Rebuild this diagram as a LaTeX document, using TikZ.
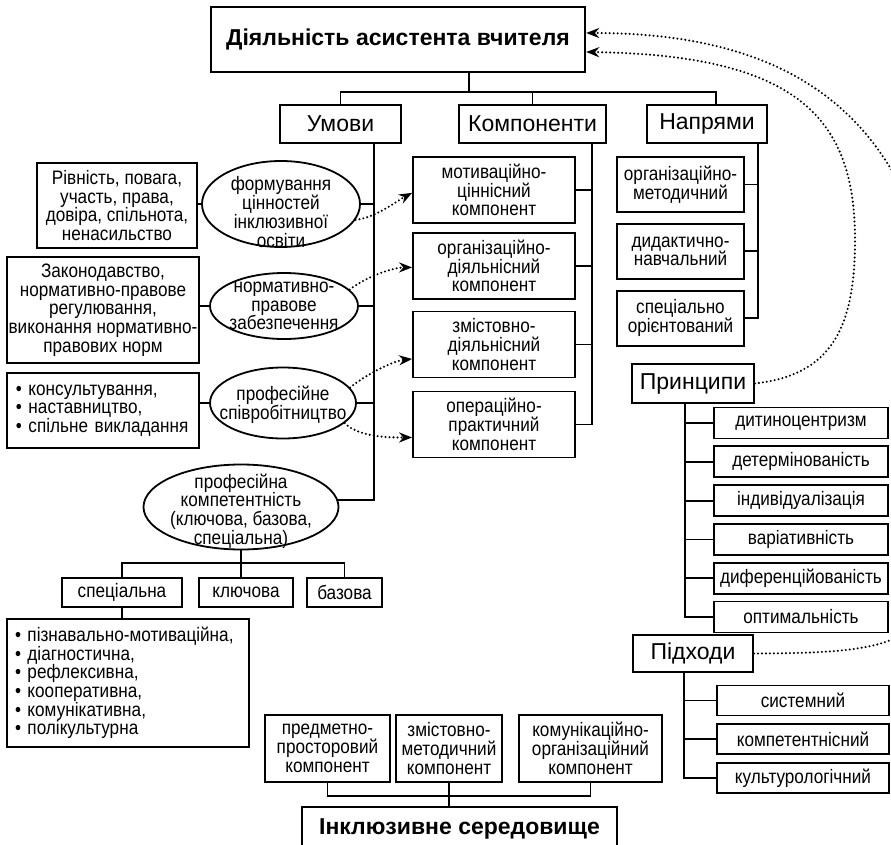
\documentclass[tikz,border=0pt]{standalone}
\usepackage{fontspec}
\setmainfont{Liberation Sans}
\newfontfamily\narrowfont{Liberation Sans}[FakeStretch=0.88]
\usetikzlibrary{shapes.geometric, arrows.meta, positioning, calc}
\newcommand\txtfont{\narrowfont\fontsize{19.5}{18.7}\selectfont}
\newcommand\hdfont{\fontsize{23}{26}\selectfont}
\newcommand\ttlfont{\bfseries\fontsize{23}{26}\selectfont}
\tikzset{
    box/.style={rectangle, draw, line width=1.8pt, align=center, inner sep=1pt, font=\txtfont},
    head/.style={box, font=\hdfont, minimum height=38pt},
    maintitle/.style={box, line width=2.4pt, font=\ttlfont},
    oval/.style={ellipse, draw, line width=1.8pt, inner sep=0pt},
    ovaltext/.style={align=center, font=\txtfont},
    link/.style={line width=1.8pt},
    dotarrow/.style={line width=2.3pt, dash pattern=on 0pt off 4pt, line cap=round, -{Stealth[length=13pt, width=10pt]}},
    comp/.style={box, minimum width=162pt, minimum height=66pt},
    dirbox/.style={box, minimum width=127pt, minimum height=55pt},
    prbox/.style={box, minimum width=174pt, minimum height=31pt},
    apbox/.style={box, minimum width=172pt, minimum height=30pt}
}
\begin{document}
\begin{tikzpicture}[x=1pt, y=-1pt]
    \useasboundingbox (0,0) rectangle (891,845);
    \clip (0,0) rectangle (891,845);

    \node[maintitle, minimum width=374pt, minimum height=65pt] (title) at (398,39.5) {Діяльність асистента вчителя};
    \node[head, minimum width=121pt] (umovy) at (340.5,124) {Умови};
    \node[head, minimum width=147pt] (kompon) at (532.5,124) {Компоненти};
    \node[head, minimum width=120pt] (napr) at (707,124) {Напрями};
    \coordinate (bus) at (469,92);
    \draw[link] (title.south -| bus) -- (bus);
    \draw[link] (umovy.north) |- (bus) -| ($(napr.north)+(9,0)$);
    \draw[link] (kompon.north |- bus) -- (kompon.north);

    \node[oval, minimum width=158pt, minimum height=86pt] (form) at (281,204) {};
    \node[ovaltext] (formtxt) at ($(form)+(0,8)$) {формування\\цінностей\\інклюзивної\\освіти};
    \node[oval, minimum width=148pt, minimum height=66pt] (norm) at (284,306) {};
    \node[ovaltext] (normtxt) at (norm) {нормативно-\\правове\\забезпечення};
    \node[oval, minimum width=146pt, minimum height=71pt] (prof) at (283,403) {};
    \node[ovaltext] (proftxt) at ($(prof)+(0,2)$) {професійне\\співробітництво};
    \node[oval, minimum width=195pt, minimum height=85pt] (pcomp) at (241,507) {};
    \node[ovaltext] (pcomptxt) at ($(pcomp)+(0,4)$) {професійна\\компетентність\\(ключова, базова,\\спеціальна)};

    \node[box, minimum width=160pt, minimum height=85pt] (rivn) at (117,205.5) {Рівність, повага,\\участь, права,\\довіра, спільнота,\\ненасильство};
    \node[box, minimum width=192pt, minimum height=106pt] (zakon) at (103,310) {Законодавство,\\нормативно-правове\\регулювання,\\виконання нормативно-\\правових норм};
    \node[box, minimum width=192pt, minimum height=75pt, text width=174pt, align=left] (konsult) at (103,410.5) {• консультування,\\• наставництво,\\• спільне викладання};
    \draw[link] (form.west) -- (form.west -| rivn.east);
    \draw[link] (norm.west) -- (norm.west -| zakon.east);
    \draw[link] (prof.west) -- (prof.west -| konsult.east);

    \coordinate (uspine) at (374,143);
    \draw[link] (umovy.south -| uspine) -- (uspine |- pcomp.4) -- (pcomp.4);
    \foreach \e in {form, norm, prof}
        \draw[link] (\e.east) -- (\e.east -| uspine);

    \node[comp] (motiv) at (494,190) {мотиваційно-\\ціннісний\\компонент};
    \node[comp] (orgd) at (494,266) {організаційно-\\діяльнісний\\компонент};
    \node[comp] (zmist) at (494,344.5) {змістовно-\\діяльнісний\\компонент};
    \node[comp] (oper) at (494,424.5) {операційно-\\практичний\\компонент};
    \coordinate (kspine) at (592,143);
    \draw[link] (kompon.south -| kspine) -- (kspine |- oper.east) -- (oper.east);
    \foreach \c in {motiv, orgd, zmist}
        \draw[link] (\c.east) -- (\c.east -| kspine);

    \draw[dotarrow] (form.-12) .. controls +(20,-2) and +(-15,8) .. (motiv.182);
    \draw[dotarrow] (norm.14) .. controls +(15,-12) and +(-20,0) .. (orgd.181);
    \draw[dotarrow] (prof.13) .. controls +(15,-12) and +(-20,2) .. (zmist.190);
    \draw[dotarrow] (prof.-18) .. controls +(15,15) and +(-20,0) .. (oper.189);

    \node[dirbox] (orgm) at (680.5,184.5) {організаційно-\\методичний};
    \node[dirbox] (dydakt) [below=10pt of orgm] {дидактично-\\навчальний};
    \node[dirbox] (specor) [below=10pt of dydakt] {спеціально\\орієнтований};
    \coordinate (nspine) at (758,143);
    \draw[link] (napr.south -| nspine) -- (nspine |- specor.east) -- (specor.east);
    \foreach \c in {orgm, dydakt}
        \draw[link] (\c.east) -- (\c.east -| nspine);

    \node[head, minimum width=122pt, minimum height=39pt] (pryn) at (693,383.5) {Принципи};
    \node[prbox] (p1) at (801,423) {дитиноцентризм};
    \node[prbox] (p2) [below=6pt of p1] {детермінованість};
    \node[prbox] (p3) [below=6pt of p2] {індивідуалізація};
    \node[prbox] (p4) [below=6pt of p3] {варіативність};
    \node[prbox] (p5) [below=6pt of p4] {диференційованість};
    \node[prbox] (p6) [below=6pt of p5] {оптимальність};
    \coordinate (pspine) at (685,403);
    \draw[link] (pryn.south -| pspine) -- (pspine |- p6.west) -- (p6.west);
    \foreach \i in {1,...,5}
        \draw[link] (p\i.west) -- (p\i.west -| pspine);

    \node[head, minimum width=120pt, minimum height=37pt] (pidkh) at (693,653.5) {Підходи};
    \node[apbox] (a1) at (803,700.5) {системний};
    \node[apbox] (a2) [below=7pt of a1] {компетентнісний};
    \node[apbox] (a3) [below=7pt of a2] {культурологічний};
    \coordinate (aspine) at (684,672);
    \draw[link] (pidkh.south -| aspine) -- (aspine |- a3.west) -- (a3.west);
    \foreach \i in {1,2}
        \draw[link] (a\i.west) -- (a\i.west -| aspine);

    \draw[dotarrow] (pryn.east) .. controls (830,375) and (855,330) .. (855,240) .. controls (855,120) and (800,55) .. ($(title.east)+(0,12.5)$);
    \draw[dotarrow] (pidkh.east) .. controls (930,653) and (950,640) .. (950,450) .. controls (950,170) and (850,33) .. ($(title.east)+(0,-6.5)$);

    \node[box, minimum width=120pt, minimum height=29pt] (specb) at (122,592.5) {спеціальна};
    \node[box, minimum width=94pt, minimum height=29pt] (kluch) at (246,592.5) {ключова};
    \node[box, minimum width=75pt, minimum height=29pt] (baz) at (344.5,592.5) {базова};
    \draw[link] (pcomp.south) -- (pcomp.south |- kluch.north);
    \draw[link] (specb.north) -- ++(0,-14) -| (baz.north);
    \node[box, minimum width=242pt, minimum height=128pt, text width=226pt, align=left] (list) at (128,683) {• пізнавально-мотиваційна,\\• діагностична,\\• рефлексивна,\\• кооперативна,\\• комунікативна,\\• полікультурна};
    \draw[link] (specb.south) -- (specb.south |- list.north);

    \node[box, minimum width=125pt, minimum height=67pt] (predm) at (327.5,748.5) {предметно-\\просторовий\\компонент};
    \node[box, minimum width=106pt, minimum height=67pt] (zmmet) at (449,748.5) {змістовно-\\методичний\\компонент};
    \node[box, minimum width=143pt, minimum height=67pt] (komorg) at (590.5,748.5) {комунікаційно-\\організаційний\\компонент};
    \node[maintitle, minimum width=315pt, minimum height=43pt] (incl) at (459.5,828.5) {Інклюзивне середовище};
    \draw[link] (predm.south) -- ++(0,13) -| (komorg.south);
    \draw[link] (zmmet.south) -- (zmmet.south |- incl.north);
\end{tikzpicture}
\end{document}
